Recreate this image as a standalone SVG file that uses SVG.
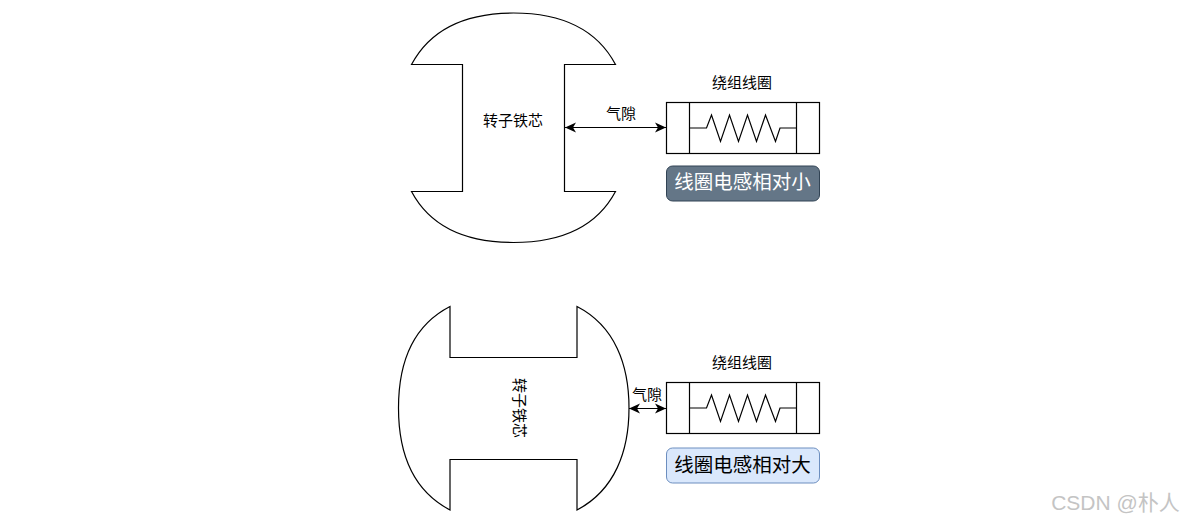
<svg xmlns="http://www.w3.org/2000/svg" width="1183" height="523" viewBox="0 0 1183 523">
<style>
.s{fill:#fff;stroke:#000;stroke-width:1.200}
.l{fill:none;stroke:#000;stroke-width:1.200}
text{font-family:"Liberation Sans","Noto Sans CJK SC",sans-serif;text-anchor:middle}
.t{font-size:15px;fill:#000}
.b{font-size:19.500px}
</style>
<defs>
<marker id="a" viewBox="0 0 12 12" refX="11" refY="6" markerWidth="12" markerHeight="12" markerUnits="userSpaceOnUse" orient="auto-start-reverse"><path d="M0 1L11 6L0 11L3 6Z" fill="#000"/></marker>
<g id="coil"><rect class="s" x="0" y="0" width="153" height="51"/><path class="l" d="M23 0V51M130 0V51M23 25.500H40L45 12.500L54 39L63 12.500L72 39L81 12.500L90 39L99 12.500L109 39L113.500 25.500H130"/></g>
</defs>
<rect width="1183" height="523" fill="#fff"/>
<g id="connectors">
<line class="l" x1="565" y1="127.500" x2="666" y2="127.500" marker-start="url(#a)" marker-end="url(#a)"/>
<line class="l" x1="629" y1="408.500" x2="666" y2="408.500" marker-start="url(#a)" marker-end="url(#a)"/>
</g>
<g id="rotor-top"><path class="s" d="M411.500 64.500C432 26 470 13 513.500 13S595 26 615.500 64.500H564.500V191.500H615.500C595 230 557 242.500 513.500 242.500S432 230 411.500 191.500H462.500V64.500Z"/><text class="t" x="513" y="126">转子铁芯</text></g>
<g id="rotor-bottom"><path class="s" d="M450 306.500V357.500H577V306.500C615 326 629 365 629 408S615 490 577 510V459.500H450V510C412 490 398.500 451 398.500 408S412 326 450 306.500Z"/><text class="t" transform="translate(514 408) rotate(90)" x="0" y="0">转子铁芯</text></g>
<g id="gap-top"><text class="t" x="621" y="119">气隙</text></g>
<g id="gap-bottom"><text class="t" x="647" y="400">气隙</text></g>
<g id="coil-top"><text class="t" x="742" y="88">绕组线圈</text><use href="#coil" x="666.500" y="102.500"/></g>
<g id="coil-bottom"><text class="t" x="742" y="368">绕组线圈</text><use href="#coil" x="666.500" y="382.500"/></g>
<g id="label-small"><rect x="666.500" y="166" width="153" height="35" rx="6" fill="#647687" stroke="#314354"/><text class="b" x="742.500" y="189" fill="#fff">线圈电感相对小</text></g>
<g id="label-large"><rect x="666.500" y="448" width="153" height="35" rx="6" fill="#dae8fc" stroke="#6c8ebf"/><text class="b" x="742.500" y="472" fill="#000">线圈电感相对大</text></g>
<text id="watermark" x="1115.500" y="510" font-size="21" fill="#c4c4c4">CSDN @朴人</text>
</svg>
